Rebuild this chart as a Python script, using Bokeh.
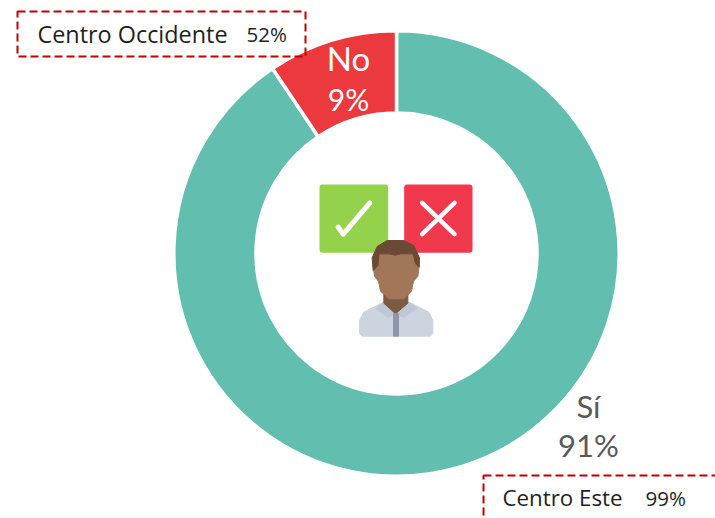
from bokeh.plotting import figure
from bokeh.models import Range1d
from bokeh.core.properties import value
from bokeh.embed import file_html
from bokeh.resources import INLINE

# data
categories = ["Sí", "No"]
shares = [90.6, 9.4]
colors = ["#62BFAF", "#EC393D"]
callouts = [("Centro Occidente", "52%"), ("Centro Este", "99%")]

W, H = 715, 518
BIG = "Lato"
SMALL = "Open Sans"
p = figure(width=W, height=H, output_backend="svg", toolbar_location=None,
           x_range=Range1d(0, W), y_range=Range1d(0, H),
           min_border=0, outline_line_color=None)
p.axis.visible = False
p.grid.visible = False
p.background_fill_color = "white"

def Y(py):
    return 518 - py

CX, CY, RO, RI = 396, 253, 222.7, 140.5

# donut, clockwise from 12 o'clock
start = 90.0
for name, share, col in zip(categories, shares, colors):
    end = start - share * 3.6
    p.annular_wedge(x=CX, y=Y(CY), inner_radius=RI, outer_radius=RO,
                    start_angle=end, end_angle=start, start_angle_units="deg", end_angle_units="deg",
                    fill_color=col, line_color="white", line_width=3.5)
    start = end

def label(x, py, txt, size, color, align="center", font=BIG):
    p.text(x=[x], y=[Y(py)], text=[txt], text_font=value(font), text_font_size=size,
           text_color=color, text_align=align, text_baseline="middle")

share_txt = {c: f"{round(s)}%" for c, s in zip(categories, shares)}
label(348, 57, categories[1], "33px", "white")
label(348, 98, share_txt["No"], "30px", "white")
label(588, 405, categories[0], "31px", "#595959")
label(588, 444, share_txt["Sí"], "31px", "#595959")

# dashed callouts
p.quad(left=[17], right=[305], top=[Y(11)], bottom=[Y(56)], fill_color=None,
       line_color="#C00000", line_width=2, line_dash="8 4")
p.quad(left=[483], right=[790], top=[Y(475)], bottom=[Y(560)], fill_color=None,
       line_color="#C00000", line_width=2, line_dash="8 4")
label(37, 33, callouts[0][0], "23.4px", "#1F1F1F", "left", SMALL)
label(246, 33, callouts[0][1], "20.5px", "#1F1F1F", "left", SMALL)
label(502, 497, callouts[1][0], "22.3px", "#1F1F1F", "left", SMALL)
label(645, 497, callouts[1][1], "20.5px", "#1F1F1F", "left", SMALL)

# icon, sketched on the zoomed grid
def poly(pts, color, lw=1.0):
    xs = [300 + a / 3 for a, b in pts]
    ys = [Y(170 + b / 3) for a, b in pts]
    p.patch(xs, ys, fill_color=color, line_color=color, line_width=lw, line_join="round")

def stroke(pts, color, lw):
    xs = [300 + a / 3 for a, b in pts]
    ys = [Y(170 + b / 3) for a, b in pts]
    p.line(xs, ys, line_color=color, line_width=lw, line_cap="round", line_join="round")

poly([(66, 51), (254, 51), (254, 238), (66, 238)], "#95D24C", 6)
poly([(320, 51), (507, 51), (507, 238), (320, 238)], "#F0394D", 6)
stroke([(113, 170), (128, 191), (208, 97)], "white", 5)
stroke([(365, 97), (462, 191)], "white", 4.5)
stroke([(462, 97), (365, 191)], "white", 4.5)

poly([(185, 497), (177, 488), (177, 450), (190, 425), (215, 412), (250, 395), (325, 395),
      (360, 412), (385, 425), (397, 450), (397, 488), (390, 497)], "#CDD3DF")
poly([(225, 414), (250, 396), (285, 428), (325, 396), (350, 414), (310, 440),
      (285, 430), (262, 440)], "#BFC6D6")
poly([(250, 370), (322, 370), (322, 398), (285, 430), (250, 398)], "#7D5A42")
poly([(279, 430), (294, 430), (294, 497), (279, 497)], "#8D98AA")
poly([(218, 285), (222, 318), (234, 332), (240, 362), (265, 385), (310, 385), (333, 362),
      (339, 332), (352, 318), (356, 285), (345, 250), (230, 250)], "#A17659")
poly([(218, 300), (215, 262), (230, 228), (260, 210), (310, 210), (340, 225), (357, 262),
      (356, 290), (345, 280), (338, 250), (300, 250), (285, 254), (265, 250), (236, 250),
      (232, 285)], "#6B4A35")

open("out.html", "w").write(file_html(p, INLINE))
